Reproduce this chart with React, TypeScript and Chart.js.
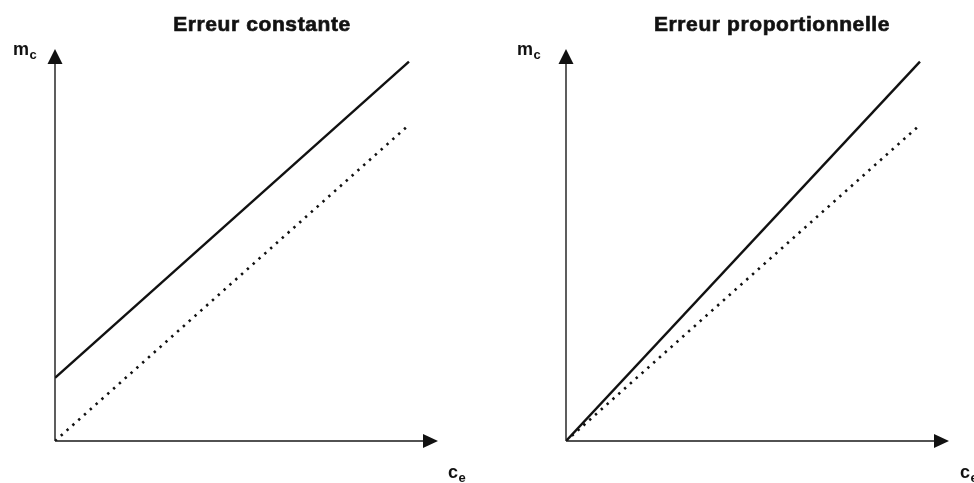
import React, { useEffect, useRef } from "react";
import { Chart, registerables } from "chart.js";

Chart.register(...registerables);

// Concentration axis: the two lines run from c = 0 to c = 1
const xValues = [0, 1];
// Reference response (ideal method): m = c
const referenceValues = [0, 1];
// Constant error: offset of 0.2 over the whole range
const constantErrorValues = [0.2, 1.2];
// Proportional error: slope of 1.2 through the origin
const proportionalErrorValues = [0, 1.2];

const panelTitles = ["Erreur constante", "Erreur proportionnelle"];
const yAxisLabel = { main: "m", sub: "c" };
const xAxisLabel = { main: "c", sub: "e" };

const X_MAX = 1.082;
const Y_MAX = 1.24;

const FONT = "'Liberation Sans', Arial, Helvetica, sans-serif";

type PanelOpts = {
  title: string;
  titleX: number;
  yLabelX: number;
  xLabelX: number;
};

const toPoints = (ys: number[]) => xValues.map((x, i) => ({ x, y: ys[i] }));

// Draws the arrowed axes, the panel title and the axis symbols
const framePlugin = {
  id: "frame",
  afterDatasetsDraw(chart: any, _args: any, opts: PanelOpts) {
    const { ctx, chartArea } = chart;
    const xs = chart.scales.x;
    const ys = chart.scales.y;
    const ox = xs.getPixelForValue(0);
    const oy = ys.getPixelForValue(0);
    const xEnd = chartArea.right;
    const yEnd = chartArea.top;
    ctx.save();
    ctx.strokeStyle = "#1a1a1a";
    ctx.fillStyle = "#111";
    ctx.lineWidth = 1.4;
    // axis lines
    ctx.beginPath();
    ctx.moveTo(ox, oy);
    ctx.lineTo(xEnd - 10, oy);
    ctx.moveTo(ox, oy);
    ctx.lineTo(ox, yEnd + 10);
    ctx.stroke();
    // arrowheads
    ctx.beginPath();
    ctx.moveTo(xEnd, oy);
    ctx.lineTo(xEnd - 15, oy - 7);
    ctx.lineTo(xEnd - 15, oy + 7);
    ctx.closePath();
    ctx.fill();
    ctx.beginPath();
    ctx.moveTo(ox, yEnd);
    ctx.lineTo(ox - 7.5, yEnd + 15);
    ctx.lineTo(ox + 7.5, yEnd + 15);
    ctx.closePath();
    ctx.fill();

    // title, slightly heavier than plain bold
    ctx.textBaseline = "alphabetic";
    ctx.textAlign = "center";
    ctx.font = `bold 21px ${FONT}`;
    (ctx as any).letterSpacing = "0.6px";
    ctx.lineWidth = 0.7;
    ctx.fillText(opts.title, opts.titleX, 31);
    ctx.strokeText(opts.title, opts.titleX, 31);
    (ctx as any).letterSpacing = "0px";

    // axis symbols with subscripts
    ctx.textAlign = "left";
    const drawSym = (x: number, y: number, main: string, sub: string) => {
      ctx.font = `bold 18px ${FONT}`;
      ctx.fillText(main, x, y);
      const w = ctx.measureText(main).width;
      ctx.font = `bold 13px ${FONT}`;
      ctx.fillText(sub, x + w + 0.5, y + 4);
    };
    drawSym(opts.yLabelX, 55, yAxisLabel.main, yAxisLabel.sub);
    drawSym(opts.xLabelX, 478, xAxisLabel.main, xAxisLabel.sub);
    ctx.restore();
  },
};

type PanelProps = {
  left: number;
  errorValues: number[];
  padding: { left: number; right: number; top: number; bottom: number };
  frame: PanelOpts;
};

function Panel({ left, errorValues, padding, frame }: PanelProps) {
  const ref = useRef<HTMLCanvasElement | null>(null);
  useEffect(() => {
    if (!ref.current) return;
    const chart = new Chart(ref.current, {
      type: "line",
      data: {
        datasets: [
          {
            label: "mesure",
            data: toPoints(errorValues),
            borderColor: "#111",
            borderWidth: 2.4,
            pointRadius: 0,
            tension: 0,
          },
          {
            label: "référence",
            data: toPoints(referenceValues),
            borderColor: "#111",
            borderWidth: 2.6,
            borderDash: [2.4, 5.4],
            pointRadius: 0,
            tension: 0,
          },
        ],
      },
      options: {
        responsive: false,
        animation: false,
        layout: { padding },
        scales: {
          x: { type: "linear", min: 0, max: X_MAX, display: false },
          y: { type: "linear", min: 0, max: Y_MAX, display: false },
        },
        plugins: {
          legend: { display: false },
          tooltip: { enabled: false },
          title: { display: false },
          frame,
        } as any,
      },
      plugins: [framePlugin],
    });
    return () => chart.destroy();
  }, []);
  return (
    <div style={{ position: "absolute", left, top: 0, width: 487, height: 483 }}>
      <canvas ref={ref} width={487} height={483} />
    </div>
  );
}

export default function App() {
  return (
    <div
      style={{
        position: "absolute",
        left: 0,
        top: 0,
        width: 974,
        height: 483,
        background: "#fff",
        overflow: "hidden",
      }}
    >
      <Panel
        left={0}
        errorValues={constantErrorValues}
        padding={{ left: 55, right: 49, top: 49, bottom: 42 }}
        frame={{ title: panelTitles[0], titleX: 262, yLabelX: 13, xLabelX: 448 }}
      />
      <Panel
        left={487}
        errorValues={proportionalErrorValues}
        padding={{ left: 79, right: 25, top: 49, bottom: 42 }}
        frame={{ title: panelTitles[1], titleX: 285, yLabelX: 30, xLabelX: 473 }}
      />
    </div>
  );
}
